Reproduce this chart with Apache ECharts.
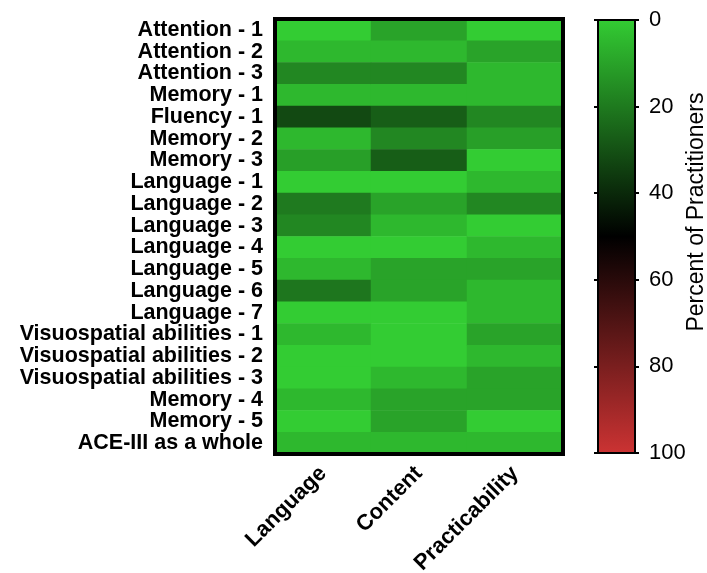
<!DOCTYPE html>
<html>
<head>
<meta charset="utf-8">
<script src="https://cdn.jsdelivr.net/npm/echarts@6/dist/echarts.min.js"></script>
<style>
html,body{margin:0;padding:0;background:#fff;}
#chart{width:707px;height:573px;}
</style>
</head>
<body>
<div id="chart"></div>
<script>
const rowLabels = [
  'Attention - 1','Attention - 2','Attention - 3','Memory - 1','Fluency - 1',
  'Memory - 2','Memory - 3','Language - 1','Language - 2','Language - 3',
  'Language - 4','Language - 5','Language - 6','Language - 7',
  'Visuospatial abilities - 1','Visuospatial abilities - 2','Visuospatial abilities - 3',
  'Memory - 4','Memory - 5','ACE-III as a whole'
];
const colLabels = ['Language','Content','Practicability'];
const languageScores       = [0,5,17,5,32,5,11,0,20,17,0,5,21,0,5,0,0,5,0,5];
const contentScores        = [10,5,17,5,27,17,27,0,10,5,0,10,10,0,0,0,5,10,10,5];
const practicabilityScores = [0,10,5,5,17,11,0,5,17,0,5,10,5,5,10,5,10,10,0,5];
const colorStops = ['#33cc33','#000000','#cc3333'];

const columns = [languageScores, contentScores, practicabilityScores];
const data = [];
columns.forEach((vals, ci) => vals.forEach((v, ri) => data.push([ci, ri, v])));

const barGradient = new echarts.graphic.LinearGradient(0, 0, 0, 1,
  colorStops.map((c, i) => ({ offset: i / (colorStops.length - 1), color: c })));

const FONT = "'Liberation Sans', Arial, Helvetica, sans-serif";
const chart = echarts.init(document.getElementById('chart'));
chart.setOption({
  animation: false,
  backgroundColor: '#ffffff',
  textStyle: { fontFamily: FONT, color: '#000' },
  grid: [
    { left: 275, top: 19, width: 288, height: 435, show: true, borderColor: '#000', borderWidth: 4,
      backgroundColor: 'transparent', z: 5, containLabel: false, outerBoundsMode: 'none' },
    { left: 598, top: 20, width: 37, height: 433, show: true, borderColor: '#000', borderWidth: 2,
      backgroundColor: barGradient, z: 3, containLabel: false, outerBoundsMode: 'none' }
  ],
  xAxis: [
    { type: 'category', gridIndex: 0, data: colLabels,
      axisLine: { show: false }, axisTick: { show: false }, splitLine: { show: false },
      axisLabel: { rotate: 45, interval: 0, margin: 16, fontSize: 22, fontWeight: 'bold', color: '#000', fontFamily: FONT } },
    { type: 'value', gridIndex: 1, show: false, min: 0, max: 1 }
  ],
  yAxis: [
    { type: 'category', gridIndex: 0, data: rowLabels, inverse: true,
      axisLine: { show: false }, axisTick: { show: false }, splitLine: { show: false },
      axisLabel: { interval: 0, margin: 12, fontSize: 21.5, fontWeight: 'bold', color: '#000', fontFamily: FONT, padding: [6, 0, 0, 0] } },
    { type: 'value', gridIndex: 1, position: 'left', min: 0, max: 100, interval: 20, inverse: true,
      axisLine: { show: false }, splitLine: { show: false },
      axisTick: { show: true, length: 4, lineStyle: { color: '#000', width: 2 } },
      axisLabel: { show: false } },
    { type: 'value', gridIndex: 1, position: 'right', min: 0, max: 100, interval: 20, inverse: true,
      axisLine: { show: false }, splitLine: { show: false },
      axisTick: { show: true, length: 4, lineStyle: { color: '#000', width: 2 } },
      axisLabel: { show: true, margin: 14, fontSize: 22, color: '#000', fontFamily: FONT },
      name: 'Percent of Practitioners', nameLocation: 'middle', nameRotate: 90, nameGap: 50,
      nameMoveOverlap: false,
      nameTextStyle: { fontSize: 23, color: '#000', fontFamily: FONT, padding: [0, 0, 0, 49] } }
  ],
  visualMap: {
    type: 'continuous', min: 0, max: 100, show: false, seriesIndex: 0,
    inRange: { color: colorStops }
  },
  series: [{
    type: 'heatmap', xAxisIndex: 0, yAxisIndex: 0, data: data, z: 2,
    itemStyle: { borderWidth: 0 },
    emphasis: { disabled: true },
    label: { show: false }
  }]
});
</script>
</body>
</html>
